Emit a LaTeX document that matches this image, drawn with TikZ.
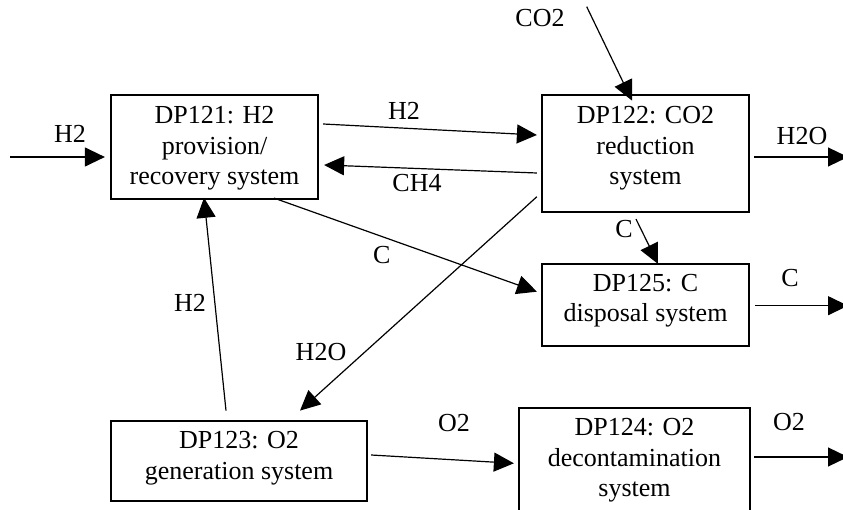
\documentclass[tikz,border=0pt]{standalone}
\usepackage{fontspec}
\setmainfont{Liberation Serif}
\usetikzlibrary{arrows.meta,calc}

\begin{document}
\begin{tikzpicture}[
    x=1pt, y=-1pt,
    dp/.style={rectangle, draw, line width=2.2pt, align=center, inner sep=0pt, font=\fontsize{26}{30.5}\selectfont},
    flow/.style={-{Triangle[length=20pt,width=19pt]}, line width=1.2pt},
    lbl/.style={anchor=base, inner sep=0pt, font=\fontsize{26}{30.5}\selectfont}
]
    % page frame (bottom of DP124 runs off the page)
    \clip (0,0) rectangle (843,510);

    % === design parameter boxes (text sits at the top of each box) ===
    \node[dp, minimum width=207pt, text height=90pt, text depth=14pt] (dp121) at (214.5,147) {DP121: H2\\provision/\\recovery system};
    \node[dp, minimum width=207pt, text height=90pt, text depth=27pt] (dp122) at (645.5,153.5) {DP122: CO2\\reduction\\system};
    \node[dp, minimum width=207pt, text height=57.7pt, text depth=24.3pt] (dp125) at (645.5,305) {DP125: C\\disposal system};
    \node[dp, minimum width=256pt, text height=58pt, text depth=22pt] (dp123) at (239,461) {DP123: O2\\generation system};
    \node[dp, minimum width=231pt, text height=88.7pt, text depth=17.3pt] (dp124) at (634.5,461) {DP124: O2\\decontamination\\system};

    % free ends of the in/out flows
    \coordinate (h2src) at (10,157);
    \coordinate (co2src) at (586.7,6.7);
    \coordinate (h2osink) at (848,157);
    \coordinate (csink) at (848,305.7);
    \coordinate (o2sink) at (848,457);

    % === flows ===
    \draw[flow] (h2src) -- ($(dp121.west)+(-5,10)$);
    \draw[flow] ($(dp121.east)+(4,-23)$) -- ($(dp122.west)+(-4,-18.5)$);
    \draw[flow] ($(dp122.west)+(-4,19.5)$) -- ($(dp121.east)+(5,18)$);
    \draw[flow] ($(dp121.south)+(59.5,-2)$) -- ($(dp125.west)+(-4,-13.3)$);
    \draw[flow] ($(dp123.north)+(-13,-9.3)$) -- ($(dp121.south)+(-10.5,-2.3)$);
    \draw[flow] ($(dp122.west)+(-4,43.2)$) -- ($(dp123.north)+(61,-9.3)$);
    \draw[flow] (co2src) -- ($(dp122.north)+(-13.5,6.7)$);
    \draw[flow] ($(dp122.east)+(4,3.5)$) -- (h2osink);
    \draw[flow] ($(dp122.south)+(-9.5,6)$) -- ($(dp125.north)+(12.5,1)$);
    \draw[flow] ($(dp125.east)+(5,0.7)$) -- (csink);
    \draw[flow] ($(dp123.east)+(3,-6)$) -- ($(dp124.west)+(-4,2.3)$);
    \draw[flow] ($(dp124.east)+(3,-4)$) -- (o2sink);

    % === flow labels ===
    \node[lbl] (lh2in) at (70,143) {H2};
    \node[lbl] (lh2a) at (404,120) {H2};
    \node[lbl] (lch4) at (417,191.7) {CH4};
    \node[lbl] (lca) at (381.7,263.3) {C};
    \node[lbl] (lh2b) at (190,311.7) {H2};
    \node[lbl] (lh2o) at (321,360) {H2O};
    \node[lbl] (lco2) at (540,26.7) {CO2};
    \node[lbl] (lh2oout) at (802,145) {H2O};
    \node[lbl] (lcb) at (624,238) {C};
    \node[lbl] (lcout) at (790,286.7) {C};
    \node[lbl] (lo2) at (454,431.7) {O2};
    \node[lbl] (lo2out) at (789,430) {O2};
\end{tikzpicture}
\end{document}
